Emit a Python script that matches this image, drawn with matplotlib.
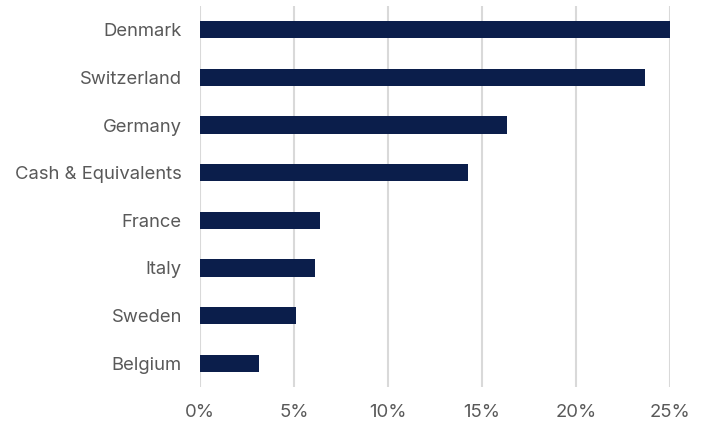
import matplotlib
matplotlib.use("Agg")
import matplotlib.pyplot as plt
import numpy as np

categories = ["Denmark", "Switzerland", "Germany", "Cash & Equivalents",
              "France", "Italy", "Sweden", "Belgium"]
weights = [25.0, 23.65, 16.35, 14.25, 6.37, 6.12, 5.13, 3.14]
xticks = [0, 5, 10, 15, 20, 25]
xtick_labels = ["0%", "5%", "10%", "15%", "20%", "25%"]

plt.rcParams["font.family"] = ["Inter", "DejaVu Sans"]
BAR = "#0b1e4b"; TXT = "#595959"; GRID = "#d9d9d9"

fig = plt.figure(figsize=(7.09, 4.23), dpi=100)
ax = fig.add_axes([0.2821, 0.0851, 0.663, 0.9007])
y = np.arange(len(categories))
ax.barh(y, weights, height=0.36, color=BAR, zorder=3)
ax.set_ylim(len(categories) - 0.5, -0.5)
ax.set_xlim(0, 25)
ax.set_yticks(y)
ax.set_yticklabels(categories)
ax.set_xticks(xticks)
ax.set_xticklabels(xtick_labels)
ax.tick_params(axis="y", length=0, pad=13, labelsize=13.3, labelcolor=TXT)
ax.tick_params(axis="x", length=0, pad=12, labelsize=13.3, labelcolor=TXT)
ax.grid(axis="x", color=GRID, lw=1.5, zorder=0)
for s in ax.spines.values():
    s.set_visible(False)
fig.savefig("out.png", dpi=100)
